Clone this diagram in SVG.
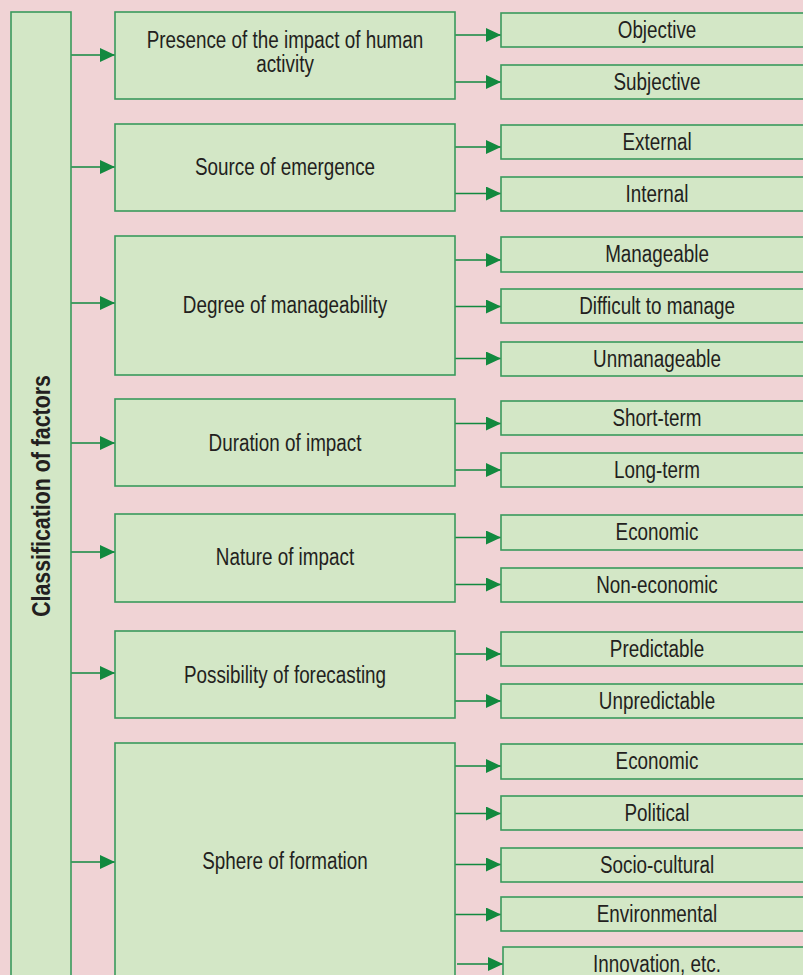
<svg xmlns="http://www.w3.org/2000/svg" width="803" height="975" viewBox="0 0 803 975">
<defs>
<style>
.box{fill:#d3e7c6;stroke:#3a9a5c;stroke-width:1.6}
.t{font-family:"Liberation Sans",Arial,sans-serif;font-size:23px;fill:#231f20;text-anchor:middle}
.title{font-family:"Liberation Sans",Arial,sans-serif;font-size:26px;font-weight:bold;fill:#231f20;text-anchor:middle}
.c{stroke:#12893f;stroke-width:1.6;fill:none;marker-end:url(#ah)}
</style>
<marker id="ah" viewBox="0 0 15 14" refX="15" refY="7" markerWidth="15" markerHeight="14" markerUnits="userSpaceOnUse" orient="auto">
<path d="M0,0 L15,7 L0,14 Z" fill="#12893f"/>
</marker>
</defs>
<rect width="803" height="975" fill="#f0d3d5"/>

<g id="connectors">
<path class="c" d="M71,55 H115"/>
<path class="c" d="M71,167 H115"/>
<path class="c" d="M71,303 H115"/>
<path class="c" d="M71,443 H115"/>
<path class="c" d="M71,552 H115"/>
<path class="c" d="M71,673 H115"/>
<path class="c" d="M71,862 H115"/>

<path class="c" d="M455,35 H501"/>
<path class="c" d="M455,82 H501"/>
<path class="c" d="M455,147 H501"/>
<path class="c" d="M455,193.5 H501"/>
<path class="c" d="M455,260 H501"/>
<path class="c" d="M455,306.5 H501"/>
<path class="c" d="M455,358.5 H501"/>
<path class="c" d="M455,423.5 H501"/>
<path class="c" d="M455,470 H501"/>
<path class="c" d="M455,537.5 H501"/>
<path class="c" d="M455,584.5 H501"/>
<path class="c" d="M455,654 H501"/>
<path class="c" d="M455,701 H501"/>
<path class="c" d="M455,766 H501"/>
<path class="c" d="M455,813.5 H501"/>
<path class="c" d="M455,864.5 H501"/>
<path class="c" d="M455,914.5 H501"/>
<path class="c" d="M457,964 H503"/>
</g>

<g id="root">
<rect class="box" x="11" y="12" width="60" height="980"/>
<text class="title" transform="translate(49.5,496) rotate(-90) scale(0.82,1)">Classification of factors</text>
</g>

<g id="presence">
<rect class="box" x="115" y="12" width="340" height="87"/>
<text class="t" transform="translate(285,48) scale(0.82,1)">Presence of the impact of human</text>
<text class="t" transform="translate(285,72) scale(0.82,1)">activity</text>
</g>
<g id="source">
<rect class="box" x="115" y="124" width="340" height="87"/>
<text class="t" transform="translate(285,175) scale(0.82,1)">Source of emergence</text>
</g>
<g id="degree">
<rect class="box" x="115" y="236" width="340" height="139"/>
<text class="t" transform="translate(285,313) scale(0.82,1)">Degree of manageability</text>
</g>
<g id="duration">
<rect class="box" x="115" y="399" width="340" height="87"/>
<text class="t" transform="translate(285,451) scale(0.82,1)">Duration of impact</text>
</g>
<g id="nature">
<rect class="box" x="115" y="514" width="340" height="88"/>
<text class="t" transform="translate(285,565) scale(0.82,1)">Nature of impact</text>
</g>
<g id="possibility">
<rect class="box" x="115" y="631" width="340" height="87"/>
<text class="t" transform="translate(285,683) scale(0.82,1)">Possibility of forecasting</text>
</g>
<g id="sphere">
<rect class="box" x="115" y="743" width="340" height="250"/>
<text class="t" transform="translate(285,869) scale(0.82,1)">Sphere of formation</text>
</g>

<g id="objective"><rect class="box" x="501" y="13" width="320" height="34"/><text class="t" transform="translate(657,38) scale(0.82,1)">Objective</text></g>
<g id="subjective"><rect class="box" x="501" y="65" width="320" height="34"/><text class="t" transform="translate(657,90) scale(0.82,1)">Subjective</text></g>
<g id="external"><rect class="box" x="501" y="125" width="320" height="34"/><text class="t" transform="translate(657,150) scale(0.82,1)">External</text></g>
<g id="internal"><rect class="box" x="501" y="177" width="320" height="34"/><text class="t" transform="translate(657,202) scale(0.82,1)">Internal</text></g>
<g id="manageable"><rect class="box" x="501" y="237" width="320" height="35"/><text class="t" transform="translate(657,262) scale(0.82,1)">Manageable</text></g>
<g id="difficult"><rect class="box" x="501" y="289" width="320" height="34"/><text class="t" transform="translate(657,314) scale(0.82,1)">Difficult to manage</text></g>
<g id="unmanageable"><rect class="box" x="501" y="342" width="320" height="34"/><text class="t" transform="translate(657,367) scale(0.82,1)">Unmanageable</text></g>
<g id="shortterm"><rect class="box" x="501" y="401" width="320" height="34"/><text class="t" transform="translate(657,426) scale(0.82,1)">Short-term</text></g>
<g id="longterm"><rect class="box" x="501" y="453" width="320" height="34"/><text class="t" transform="translate(657,478) scale(0.82,1)">Long-term</text></g>
<g id="economic1"><rect class="box" x="501" y="515" width="320" height="35"/><text class="t" transform="translate(657,540) scale(0.82,1)">Economic</text></g>
<g id="noneconomic"><rect class="box" x="501" y="568" width="320" height="34"/><text class="t" transform="translate(657,593) scale(0.82,1)">Non-economic</text></g>
<g id="predictable"><rect class="box" x="501" y="632" width="320" height="34"/><text class="t" transform="translate(657,657) scale(0.82,1)">Predictable</text></g>
<g id="unpredictable"><rect class="box" x="501" y="684" width="320" height="34"/><text class="t" transform="translate(657,709) scale(0.82,1)">Unpredictable</text></g>
<g id="economic2"><rect class="box" x="501" y="744" width="320" height="35"/><text class="t" transform="translate(657,769) scale(0.82,1)">Economic</text></g>
<g id="political"><rect class="box" x="501" y="796" width="320" height="34"/><text class="t" transform="translate(657,821) scale(0.82,1)">Political</text></g>
<g id="sociocultural"><rect class="box" x="501" y="848" width="320" height="34"/><text class="t" transform="translate(657,873) scale(0.82,1)">Socio-cultural</text></g>
<g id="environmental"><rect class="box" x="501" y="897" width="320" height="34"/><text class="t" transform="translate(657,922) scale(0.82,1)">Environmental</text></g>
<g id="innovation"><rect class="box" x="503" y="947" width="320" height="40"/><text class="t" transform="translate(657,972) scale(0.82,1)">Innovation, etc.</text></g>
</svg>
